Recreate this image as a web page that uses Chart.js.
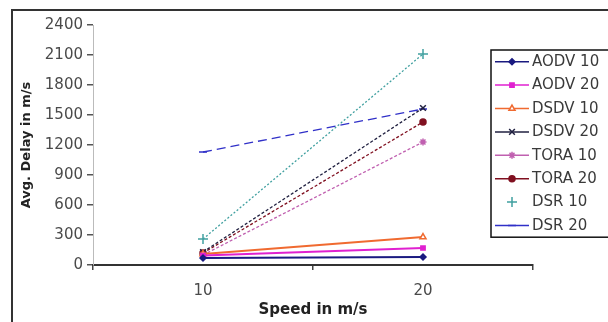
<!DOCTYPE html>
<html>
<head>
<meta charset="utf-8">
<script src="https://cdn.jsdelivr.net/npm/chart.js@4/dist/chart.umd.min.js"></script>
<style>
  html, body { margin: 0; padding: 0; background: #fff; }
  #wrap { width: 608px; height: 322px; position: relative; }
</style>
</head>
<body>
<div id="wrap"><canvas id="c" width="608" height="322"></canvas></div>
<script>
const speeds = ['10', '20'];
const yTicks = [0, 300, 600, 900, 1200, 1500, 1800, 2100, 2400];
const seriesNames = ['AODV 10', 'AODV 20', 'DSDV 10', 'DSDV 20', 'TORA 10', 'TORA 20', 'DSR 10', 'DSR 20'];
const aodv10 = [70, 80];
const aodv20 = [95, 170];
const dsdv10 = [110, 280];
const dsdv20 = [130, 1570];
const tora10 = [100, 1230];
const tora20 = [120, 1430];
const dsr10 = [260, 2110];
const dsr20 = [1130, 1560];

const seriesValues = [aodv10, aodv20, dsdv10, dsdv20, tora10, tora20, dsr10, dsr20];

const FONT = '"DejaVu Sans", Verdana, sans-serif';

// стиль каждой серии: цвет, маркер, штрих
const styles = [
  { color: '#1a1a80', point: 'rectRot', dash: [], fill: true, r: 3 },
  { color: '#e020d0', point: 'rect', dash: [], fill: true, r: 3 },
  { color: '#f06a30', point: 'triangle', dash: [], fill: false, r: 3.5 },
  { color: '#202040', point: 'crossRot', dash: [3, 2], fill: false, r: 4 },
  { color: '#c060b0', point: 'star', dash: [3, 2], fill: false, r: 3.5 },
  { color: '#801020', point: 'circle', dash: [3, 2], fill: true, r: 3 },
  { color: '#40a0a0', point: 'cross', dash: [2, 2], fill: false, r: 5 },
  { color: '#3030c8', point: 'line', dash: [9, 5], fill: false, r: 4 },
];

const datasets = seriesNames.map((name, i) => ({
  label: name,
  data: seriesValues[i],
  borderColor: styles[i].color,
  backgroundColor: styles[i].fill ? styles[i].color : '#ffffff',
  borderWidth: i < 3 ? 2 : 1.3,
  borderDash: styles[i].dash,
  pointStyle: styles[i].point,
  pointRadius: styles[i].r,
  pointBorderColor: styles[i].color,
  pointBorderWidth: 1.5,
  tension: 0,
}));

// рамка вокруг рисунка (верх и лево)
const framePlugin = {
  id: 'frame',
  afterDraw(chart) {
    const ctx = chart.ctx;
    ctx.save();
    ctx.strokeStyle = '#333';
    ctx.lineWidth = 2;
    ctx.beginPath();
    ctx.moveTo(12, 322);
    ctx.lineTo(12, 10);
    ctx.lineTo(608, 10);
    ctx.stroke();
    ctx.restore();
  }
};

// легенда в рамке, наложенная поверх правой части графика
const legendBox = { x: 491, y: 50, w: 130, row: 23.4 };
const boxLegendPlugin = {
  id: 'boxLegend',
  afterDraw(chart) {
    const ctx = chart.ctx;
    const n = chart.data.datasets.length;
    const h = legendBox.row * n;
    ctx.save();
    ctx.fillStyle = '#fff';
    ctx.fillRect(legendBox.x, legendBox.y, legendBox.w, h);
    ctx.strokeStyle = '#111';
    ctx.lineWidth = 1.5;
    ctx.strokeRect(legendBox.x, legendBox.y, legendBox.w, h);
    ctx.font = '15px ' + FONT;
    ctx.textBaseline = 'middle';
    chart.data.datasets.forEach((ds, i) => {
      const cy = legendBox.y + legendBox.row * (i + 0.5);
      const x0 = legendBox.x + 4, x1 = legendBox.x + 38;
      if (i !== 6) {
        ctx.strokeStyle = ds.borderColor;
        ctx.lineWidth = 1.5;
        ctx.setLineDash([]);
        ctx.beginPath();
        ctx.moveTo(x0, cy);
        ctx.lineTo(x1, cy);
        ctx.stroke();
      }
      ctx.fillStyle = ds.backgroundColor;
      ctx.strokeStyle = ds.pointBorderColor;
      ctx.lineWidth = 1.5;
      Chart.helpers.drawPoint(ctx, { pointStyle: ds.pointStyle, radius: ds.pointRadius, rotation: 0, borderWidth: 1.5 }, (x0 + x1) / 2, cy);
      ctx.fillStyle = '#3a3a3a';
      ctx.fillText(ds.label, legendBox.x + 41, cy + 0.5);
    });
    ctx.restore();
  }
};

new Chart(document.getElementById('c'), {
  type: 'line',
  data: { labels: speeds, datasets },
  options: {
    responsive: false,
    animation: false,
    devicePixelRatio: 1,
    layout: { padding: { left: 0, top: 25, right: 75, bottom: 0 } },
    plugins: { legend: { display: false }, tooltip: { enabled: false } },
    scales: {
      x: {
        offset: true,
        grid: { offset: true, drawOnChartArea: false, drawTicks: true, tickLength: 5, color: '#444', lineWidth: 1.5 },
        border: { color: '#333', width: 2 },
        ticks: { color: '#4a4a4a', padding: 12, font: { size: 15, family: FONT } },
        title: { display: true, text: 'Speed in m/s', color: '#222', padding: { top: 0, bottom: 3 },
                 font: { size: 15, weight: 'bold', family: FONT } },
        afterFit: (s) => { s.height = 57; },
      },
      y: {
        min: 0,
        max: 2400,
        afterBuildTicks: (s) => { s.ticks = yTicks.map(v => ({ value: v })); },
        grid: { drawOnChartArea: false, drawTicks: true, tickLength: 6, color: '#555', lineWidth: 1.5 },
        border: { color: '#bbb', width: 1 },
        ticks: { color: '#4a4a4a', padding: 4, font: { size: 15, family: FONT }, callback: (v) => String(v) },
        title: { display: true, text: 'Avg. Delay in m/s', color: '#222', padding: { top: 19, bottom: 0 },
                 font: { size: 13, weight: 'bold', family: FONT } },
        afterFit: (s) => { s.width = 93; },
      },
    },
  },
  plugins: [framePlugin, boxLegendPlugin],
});
</script>
</body>
</html>
